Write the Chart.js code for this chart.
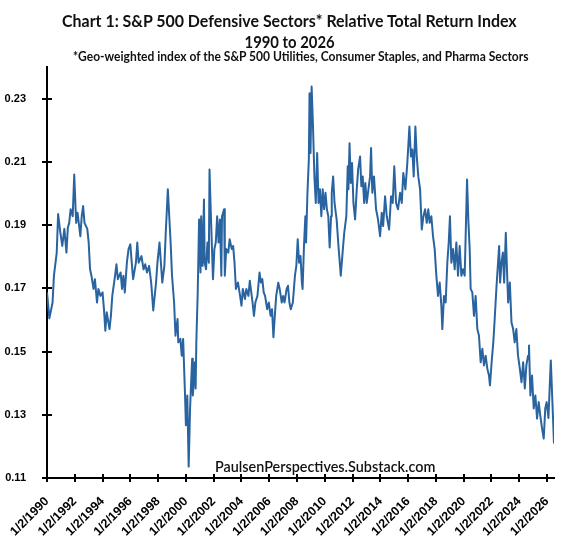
<!DOCTYPE html>
<html><head><meta charset="utf-8">
<script src="https://cdn.jsdelivr.net/npm/chart.js@4.4.1/dist/chart.umd.min.js"></script>
<style>
html,body{margin:0;padding:0;background:#fff;}
#wrap{position:relative;width:578px;height:539px;overflow:hidden;background:#fff;}
canvas{position:absolute;left:0;top:0;}
.t{position:absolute;white-space:nowrap;font-family:Lato,'Liberation Sans',sans-serif;font-weight:700;color:#111;transform-origin:center center;line-height:1;}
</style></head><body>
<div id="wrap">
<canvas id="c" width="578" height="539"></canvas>
<div class="t" id="t1" style="font-size:17px">Chart 1: S&amp;P 500 Defensive Sectors* Relative Total Return Index</div>
<div class="t" id="t2" style="font-size:17px">1990 to 2026</div>
<div class="t" id="t3" style="font-size:12.5px">*Geo-weighted index of the S&amp;P 500 Utilities, Consumer Staples, and Pharma Sectors</div>
<div class="t" id="wm" style="font-size:14.5px;font-weight:600">PaulsenPerspectives.Substack.com</div>
</div>
<script>
// ---- data (decimal year, index value) ----
const dates = [
1990.00,1990.17,1990.40,1990.50,1990.70,1990.80,1990.96,1991.10,1991.25,1991.40,1991.50,1991.60,1991.70,1991.85,1991.96,
1992.10,1992.20,1992.40,1992.50,1992.60,1992.70,1992.90,1993.00,1993.10,1993.20,1993.35,1993.45,1993.60,1993.70,1993.85,
1994.00,1994.10,1994.20,1994.30,1994.50,1994.60,1994.70,1994.90,1995.00,1995.10,1995.30,1995.40,1995.50,1995.60,1995.75,1995.87,
1996.00,1996.10,1996.20,1996.40,1996.50,1996.60,1996.80,1996.95,1997.07,1997.20,1997.35,1997.50,1997.65,1997.85,1997.95,
1998.10,1998.20,1998.30,1998.45,1998.55,1998.70,1998.90,1999.00,1999.15,1999.25,1999.40,1999.45,1999.60,1999.70,1999.80,1999.93,
2000.00,2000.10,2000.20,2000.30,2000.45,2000.50,2000.65,2000.70,2000.75,2000.85,2000.95,2001.05,2001.10,2001.20,2001.30,2001.35,
2001.45,2001.55,2001.65,2001.70,2001.80,2001.95,2002.05,2002.15,2002.25,2002.35,2002.45,2002.55,2002.60,2002.75,2002.80,2002.90,
2003.05,2003.15,2003.30,2003.40,2003.50,2003.60,2003.75,2003.90,2004.00,2004.10,2004.25,2004.35,2004.50,2004.60,2004.80,2004.90,
2005.00,2005.15,2005.30,2005.40,2005.50,2005.60,2005.70,2005.85,2005.97,2006.10,2006.20,2006.30,2006.40,2006.50,2006.65,2006.75,2006.90,
2007.00,2007.10,2007.25,2007.35,2007.45,2007.55,2007.70,2007.85,2007.95,2008.05,2008.15,2008.25,2008.35,2008.40,2008.50,2008.60,2008.65,
2008.75,2008.85,2008.90,2008.97,2009.05,2009.15,2009.25,2009.35,2009.45,2009.55,2009.65,2009.75,2009.85,2009.95,
2010.05,2010.15,2010.25,2010.35,2010.45,2010.50,2010.60,2010.70,2010.85,2011.00,2011.15,2011.30,2011.40,2011.55,2011.65,2011.70,2011.78,2011.87,2011.96,
2012.06,2012.18,2012.30,2012.40,2012.54,2012.63,2012.73,2012.83,2012.92,2013.02,2013.14,2013.26,2013.33,2013.42,2013.54,2013.69,2013.83,2013.98,
2014.10,2014.20,2014.34,2014.46,2014.63,2014.77,2014.89,2015.00,2015.13,2015.27,2015.42,2015.54,2015.65,2015.80,2015.94,
2016.09,2016.20,2016.30,2016.40,2016.52,2016.62,2016.73,2016.86,2016.98,2017.10,2017.22,2017.34,2017.45,2017.55,2017.67,2017.79,2017.91,
2018.03,2018.15,2018.27,2018.39,2018.46,2018.58,2018.70,2018.82,2018.92,2019.01,2019.11,2019.23,2019.35,2019.47,2019.59,2019.71,2019.83,2019.95,
2020.07,2020.14,2020.24,2020.33,2020.43,2020.50,2020.62,2020.74,2020.86,2020.98,2021.10,2021.22,2021.34,2021.46,2021.58,2021.70,2021.82,2021.89,
2022.01,2022.13,2022.23,2022.35,2022.47,2022.55,2022.62,2022.72,2022.82,2022.91,2023.03,2023.13,2023.20,2023.32,2023.44,2023.56,2023.67,2023.79,2023.91,
2024.04,2024.16,2024.28,2024.40,2024.51,2024.63,2024.70,2024.80,2024.92,2025.04,2025.16,2025.28,2025.40,2025.51,2025.64,2025.76,2025.87,2025.97,
2026.10,2026.27,2026.38,2026.50
];
const values = [
.1687,.1605,.1655,.1740,.1813,.1935,.1876,.1834,.1888,.1813,.1892,.1907,.1950,.1928,.2060,
.1907,.1939,.1865,.1928,.1960,.1907,.1888,.1845,.1760,.1740,.1698,.1729,.1655,.1698,.1676,
.1687,.1634,.1566,.1624,.1571,.1613,.1676,.1740,.1776,.1729,.1750,.1698,.1740,.1687,.1781,.1824,
.1839,.1781,.1729,.1781,.1845,.1781,.1802,.1760,.1776,.1750,.1771,.1718,.1630,.1718,.1781,
.1845,.1781,.1718,.1771,.1876,.2013,.1845,.1740,.1655,.1550,.1603,.1529,.1540,.1487,.1540,.1372,
.1267,.1361,.1136,.1320,.1477,.1361,.1466,.1383,.1529,.1687,.1918,.1750,.1928,.1771,.1981,.1781,
.1760,.1845,.1781,.2076,.1928,.1729,.1824,.1845,.1928,.1845,.1918,.1740,.1928,.1950,.1740,.1824,
.1813,.1855,.1824,.1834,.1781,.1698,.1718,.1676,.1645,.1698,.1666,.1698,.1676,.1724,.1655,.1613,
.1655,.1676,.1750,.1718,.1729,.1687,.1676,.1634,.1655,.1613,.1634,.1545,.1613,.1676,.1718,.1698,.1655,
.1676,.1655,.1698,.1708,.1655,.1634,.1655,.1740,.1771,.1855,.1781,.1802,.1718,.1698,.1834,.1928,.1845,
.2002,.2107,.2317,.2128,.2338,.2212,.2054,.1970,.2128,.1970,.2013,.1928,.2013,.1950,
.2002,.1950,.1928,.1829,.1928,.2002,.2054,.1970,.1918,.1824,.1740,.1824,.1876,.1928,.2086,.2013,.2159,.2033,.2096,
.1970,.1918,.2013,.2076,.2117,.2023,.2054,.1970,.2033,.1970,.2013,.2054,.2144,.2002,.2054,.1950,.1918,.1865,
.1939,.1897,.1991,.1928,.1886,.1991,.1970,.2086,.1970,.1950,.2002,.1970,.2065,.2013,.2096,
.2212,.2117,.2139,.2054,.2212,.2117,.2054,.2013,.1886,.1928,.1950,.1907,.1950,.1907,.1928,.1865,.1824,
.1740,.1676,.1718,.1645,.1571,.1676,.1655,.1781,.1845,.1928,.1781,.1824,.1760,.1845,.1740,.1834,.1740,.1760,
.1740,.1865,.2044,.1918,.1824,.1698,.1687,.1613,.1676,.1571,.1550,.1466,.1509,.1456,.1487,.1446,.1424,.1393,
.1466,.1529,.1603,.1698,.1781,.1834,.1718,.1781,.1813,.1718,.1876,.1740,.1655,.1718,.1592,.1571,.1529,.1571,.1487,
.1446,.1403,.1466,.1383,.1456,.1487,.1519,.1361,.1424,.1320,.1361,.1288,.1340,.1298,.1257,.1225,.1320,.1340,
.1290,.1472,.1346,.1209
];
const xTickValues = [1990,1992,1994,1996,1998,2000,2002,2004,2006,2008,2010,2012,2014,2016,2018,2020,2022,2024,2026];
const xTickLabels = ['1/2/1990','1/2/1992','1/2/1994','1/2/1996','1/2/1998','1/2/2000','1/2/2002','1/2/2004','1/2/2006','1/2/2008','1/2/2010','1/2/2012','1/2/2014','1/2/2016','1/2/2018','1/2/2020','1/2/2022','1/2/2024','1/2/2026'];
const yTickValues = [0.11,0.13,0.15,0.17,0.19,0.21,0.23];

const points = dates.map((d,i)=>({x:d,y:values[i]}));

const crossTicks = {
  id:'crossTicks',
  afterDraw(chart){
    const {ctx, chartArea, scales:{x,y}} = chart;
    ctx.save();
    ctx.strokeStyle='#000'; ctx.lineWidth=2;
    ctx.beginPath();
    x.ticks.forEach(t=>{const p=Math.round(x.getPixelForValue(t.value)); ctx.moveTo(p, chartArea.bottom-4); ctx.lineTo(p, chartArea.bottom+4);});
    y.ticks.forEach(t=>{const p=Math.round(y.getPixelForValue(t.value)); ctx.moveTo(chartArea.left-5, p); ctx.lineTo(chartArea.left+5, p);});
    ctx.stroke();
    ctx.restore();
  }
};

new Chart(document.getElementById('c'), {
  type:'line',
  data:{datasets:[{data:points, borderColor:'#2a64a0', borderWidth:2, pointRadius:0, tension:0, fill:false, borderJoinStyle:'round'}]},
  options:{
    responsive:false, animation:false, events:[],
    layout:{padding:{top:67,right:24,bottom:0,left:0}},
    plugins:{legend:{display:false}, tooltip:{enabled:false}, title:{display:false}},
    scales:{
      x:{type:'linear', min:1990, max:2026.5,
        afterBuildTicks:(s)=>{s.ticks=xTickValues.map(v=>({value:v}));},
        afterFit:(s)=>{s.height=61;},
        grid:{display:false}, border:{display:true,color:'#000',width:2},
        ticks:{autoSkip:false, minRotation:45, maxRotation:45, padding:8, color:'#000',
          font:{family:"'Liberation Sans', Arial, sans-serif", size:12.5, weight:'bold'},
          callback:(v)=>{const i=xTickValues.indexOf(v); return i>=0?xTickLabels[i]:'';}}
      },
      y:{type:'linear', min:0.11, max:0.24,
        afterBuildTicks:(s)=>{s.ticks=yTickValues.map(v=>({value:v}));},
        afterFit:(s)=>{s.width=47;},
        grid:{display:false}, border:{display:true,color:'#000',width:2},
        ticks:{padding:13, color:'#000',
          font:{family:"'Liberation Sans', Arial, sans-serif", size:11, weight:'bold'},
          callback:(v)=>v.toFixed(2)}
      }
    }
  },
  plugins:[crossTicks]
});

function place(id, cx, cy, w){
  const el=document.getElementById(id);
  const ow=el.offsetWidth, oh=el.offsetHeight;
  el.style.left=(cx-ow/2)+'px';
  el.style.top=(cy-oh/2)+'px';
  el.style.transform='scaleX('+(w/ow)+')';
}
place('t1',289,20,455);
place('t2',289,41,90);
place('t3',301,57,456);
place('wm',325,467,220);
</script>
</body></html>
